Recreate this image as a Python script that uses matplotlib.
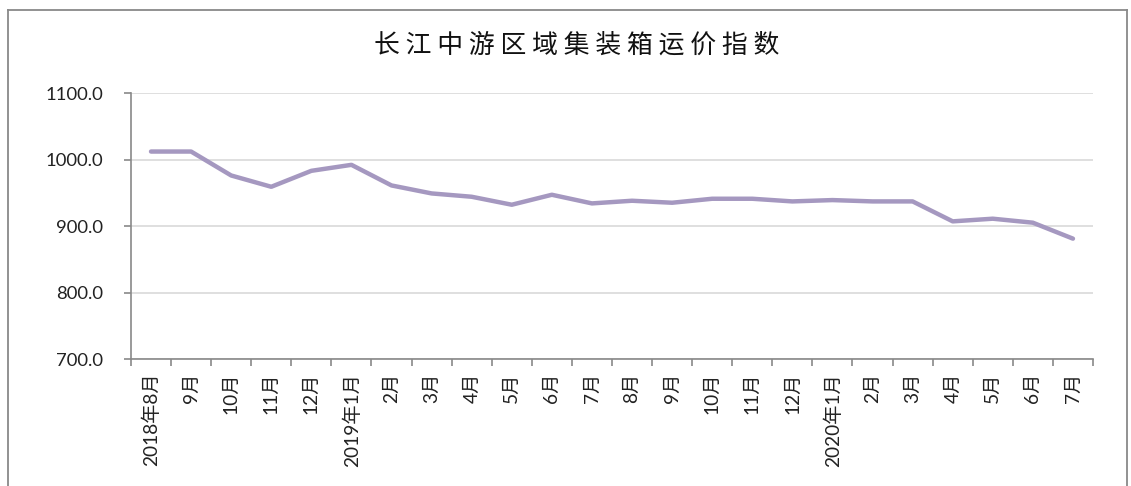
import numpy as np
import matplotlib.pyplot as plt
from matplotlib.lines import Line2D

plt.rcParams['font.family'] = ['Lato', 'Noto Sans CJK SC', 'DejaVu Sans']

# 数据
labels = ["2018年8月", "9月", "10月", "11月", "12月",
          "2019年1月", "2月", "3月", "4月", "5月", "6月", "7月",
          "8月", "9月", "10月", "11月", "12月",
          "2020年1月", "2月", "3月", "4月", "5月", "6月", "7月"]
values = [1012, 1012, 976, 959, 983, 992, 961, 949, 944, 932, 947, 934,
          938, 935, 941, 941, 937, 939, 937, 937, 907, 911, 905, 881]
yticks = [700, 800, 900, 1000, 1100]
title = "长江中游区域集装箱运价指数"

fig = plt.figure(figsize=(11.31, 4.86), dpi=100)
ax = fig.add_axes([0.1158, 0.2613, 0.8506, 0.5473])

x = np.arange(len(values))
ax.plot(x, values, color="#A598C0", linewidth=3.2, solid_capstyle="round",
        solid_joinstyle="round")

ax.set_xlim(-0.5, len(values) - 0.5)
ax.set_ylim(700, 1100)
ax.set_yticks(yticks)
ax.set_yticklabels([f"{v:.1f}" for v in yticks], fontsize=13.3, color="#222222")
ax.yaxis.grid(True, color="#D9D9D9", linewidth=1.2)
ax.set_axisbelow(True)

ax.set_xticks(x)
ax.set_xticklabels(labels, rotation=90, fontsize=13.8, color="#222222",
                   va="top", ha="center")
ax.set_xticks(np.arange(len(values) + 1) - 0.5, minor=True)
ax.tick_params(axis="x", which="major", length=0, pad=10)
ax.tick_params(axis="x", which="minor", length=5, color="#898989", width=1.2)
ax.tick_params(axis="y", length=5, color="#898989", width=1.2, pad=15)

for s in ["top", "right"]:
    ax.spines[s].set_visible(False)
for s in ["left", "bottom"]:
    ax.spines[s].set_color("#898989")
    ax.spines[s].set_linewidth(1.2)

fig.text(0.510, 0.907, " ".join(title), ha="center", va="center",
         fontsize=18.6, family=['Noto Sans CJK SC', 'DejaVu Sans'], color="#111111")

# 外框
fx0, fx1, fy1 = 8 / 1131, 1127 / 1131, 1 - 10 / 486
for xs, ys in [([fx0, fx0], [0, fy1]), ([fx0, fx1], [fy1, fy1]), ([fx1, fx1], [0, fy1])]:
    fig.add_artist(Line2D(xs, ys, color="#898989", linewidth=1.3,
                          transform=fig.transFigure))

fig.savefig("out.png", dpi=100)
